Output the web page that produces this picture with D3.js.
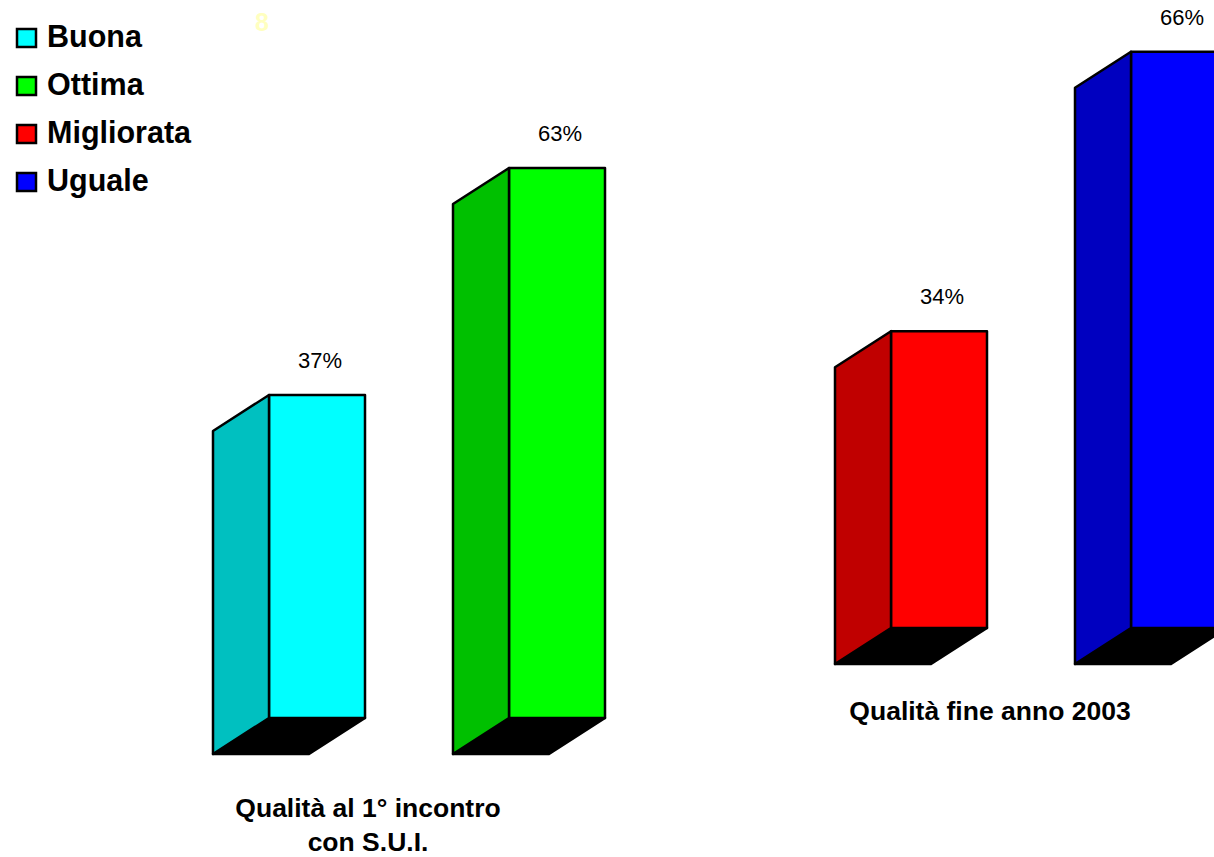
<!DOCTYPE html>
<html>
<head>
<meta charset="utf-8">
<script src="https://cdn.jsdelivr.net/npm/d3@7"></script>
<style>
  html, body { margin: 0; padding: 0; background: #fff; }
  svg { display: block; }
  text { font-family: "Liberation Sans", Arial, sans-serif; }
</style>
</head>
<body>
<svg id="chart" width="1214" height="857"></svg>
<script>
// ---- data ----
const legendLabels = ["Buona", "Ottima", "Migliorata", "Uguale"];
const group1Categories = ["Buona", "Ottima"];
const group1Values = [37, 63];
const group1Title = ["Qualità al 1° incontro", "con S.U.I."];
const group2Categories = ["Migliorata", "Uguale"];
const group2Values = [34, 66];
const group2Title = ["Qualità fine anno 2003"];
const strayLabel = "8";

// ---- styles ----
const frontColors = { Buona: "#00FFFF", Ottima: "#00FF00", Migliorata: "#FF0000", Uguale: "#0000FF" };
const sideColors  = { Buona: "#00C0C0", Ottima: "#00C000", Migliorata: "#C00000", Uguale: "#0000C0" };

const svg = d3.select("#chart");

// depth of the 3D effect (side face goes left/down)
const DX = -56, DY = 36;
const SW = 2.5;

// value -> pixel height
const h = d3.scaleLinear().domain([0, 100]).range([0, 873]);

const groups = [
  { cats: group1Categories, vals: group1Values, title: group1Title, x0: 197, base: 718, titleY: 817 },
  { cats: group2Categories, vals: group2Values, title: group2Title, x0: 819, base: 628, titleY: 720 }
];

groups.forEach(g => {
  const x = d3.scaleBand().domain(g.cats).range([g.x0, g.x0 + 480]).paddingInner(0.6).paddingOuter(0.3);
  const data = g.cats.map((c, i) => ({ cat: c, val: g.vals[i] }));
  const gg = svg.append("g");
  const bars = gg.selectAll("g.bar").data(data).join("g").attr("class", "bar");

  bars.each(function(d) {
    const sel = d3.select(this);
    const xl = x(d.cat), xr = xl + x.bandwidth();
    const yb = g.base, yt = g.base - h(d.val);
    sel.append("path")
      .attr("d", `M${xl},${yb} L${xr},${yb} L${xr + DX},${yb + DY} L${xl + DX},${yb + DY} Z`)
      .attr("fill", "#000").attr("stroke", "#000").attr("stroke-width", SW).attr("stroke-linejoin", "round");
    sel.append("path")
      .attr("d", `M${xl},${yt} L${xr},${yt} L${xr},${yb} L${xl},${yb} Z`)
      .attr("fill", frontColors[d.cat]).attr("stroke", "#000").attr("stroke-width", SW).attr("stroke-linejoin", "round");
    sel.append("path")
      .attr("d", `M${xl},${yt} L${xl},${yb} L${xl + DX},${yb + DY} L${xl + DX},${yt + DY} Z`)
      .attr("fill", sideColors[d.cat]).attr("stroke", "#000").attr("stroke-width", SW).attr("stroke-linejoin", "round");
    sel.append("text")
      .attr("x", xl + x.bandwidth() / 2 + 3)
      .attr("y", yt - 27)
      .attr("text-anchor", "middle")
      .attr("font-size", 22)
      .attr("fill", "#000")
      .text(d.val + "%");
  });

  const cx = (g.x0 + g.x0 + 480) / 2 - 69;
  g.title.forEach((t, i) => {
    gg.append("text")
      .attr("x", cx)
      .attr("y", g.titleY + i * 34)
      .attr("text-anchor", "middle")
      .attr("font-size", 26.5)
      .attr("font-weight", "bold")
      .attr("fill", "#000")
      .text(t);
  });
});

// legend
const legend = svg.append("g");
const lg = legend.selectAll("g").data(legendLabels).join("g")
  .attr("transform", (d, i) => `translate(17,${29 + i * 48})`);
lg.append("rect").attr("width", 19).attr("height", 18)
  .attr("fill", d => frontColors[d]).attr("stroke", "#000").attr("stroke-width", 2.5);
lg.append("text").attr("x", 30).attr("y", 18)
  .attr("font-size", 30.5).attr("font-weight", "bold").attr("fill", "#000")
  .text(d => d);

// stray label
svg.append("text").attr("x", 262).attr("y", 31).attr("text-anchor", "middle")
  .attr("font-size", 25).attr("font-weight", "bold").attr("fill", "#FFFFC0").text(strayLabel);
</script>
</body>
</html>
